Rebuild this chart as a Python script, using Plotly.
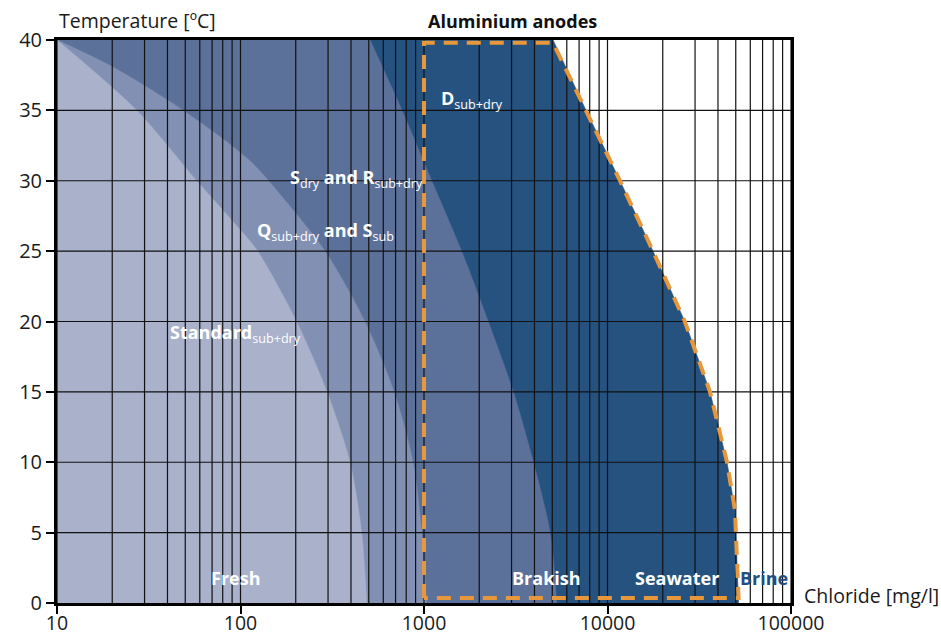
import math
import plotly.graph_objects as go

# ---------------- data ----------------
x_min, x_max = 10, 100000          # chloride axis range [mg/l]
t_min, t_max = 0, 40               # temperature axis range [degC]

# boundary of "Standard sub+dry"
standard_t = [40, 35, 30, 26.3, 25, 20, 15, 10, 5, 0]
standard_cl = [10, 27.2, 57.7, 103, 124, 202, 296, 395, 457, 487]

# boundary of "Q sub+dry and S sub"
q_t = [40, 38.1, 35, 31.4, 28.6, 25, 20, 15, 10, 5, 0]
q_cl = [10, 20, 48.7, 113, 175, 289, 476, 687, 871, 971, 1030]

# boundary of "S dry and R sub+dry"
s_t = [40, 35, 30, 25, 20, 15, 10, 5, 0]
s_cl = [508, 759, 1102, 1603, 2239, 3066, 3944, 4866, 5288]

# boundary of "D sub+dry" (aluminium anodes)
d_t = [40, 35, 30, 25, 20, 15, 10, 6.6, 0]
d_cl = [5050, 7640, 11700, 17700, 26400, 36200, 44800, 49500, 51800]

# left side of the aluminium anode window
alu_left = 1000

x_ticks = [10, 100, 1000, 10000, 100000]
x_tick_labels = ["10", "100", "1000", "10000", "100000"]
y_ticks = [0, 5, 10, 15, 20, 25, 30, 35, 40]

# ---------------- styles ----------------
c_std = "#A9B1CB"
c_q = "#8291B3"
c_s = "#5C719A"
c_d = "#265280"
c_orange = "#E8983A"
font_family = "Open Sans, Noto Sans, sans-serif"

fig = go.Figure()


def region(cl, t, color, shape):
    # invisible reference edge along the left border
    fig.add_trace(go.Scatter(
        x=[x_min, x_min], y=[t[0], t[-1]], mode="lines",
        line=dict(width=0, color=color), hoverinfo="skip", showlegend=False))
    fig.add_trace(go.Scatter(
        x=cl, y=t, mode="lines",
        line=dict(width=0.6, color=color, shape=shape, smoothing=0.8),
        fill="tonextx", fillcolor=color, hoverinfo="skip", showlegend=False))


region(d_cl, d_t, c_d, "linear")
region(s_cl, s_t, c_s, "spline")
region(q_cl, q_t, c_q, "spline")
region(standard_cl, standard_t, c_std, "spline")

# grid lines (drawn over the filled areas)
gx, gy = [], []
for dec in range(1, 5):
    for m in range(1, 10):
        v = m * 10 ** dec
        gx += [v, v, None]
        gy += [t_min, t_max, None]
gx += [x_max, x_max, None]
gy += [t_min, t_max, None]
for t in y_ticks[1:-1]:
    gx += [x_min, x_max, None]
    gy += [t, t, None]
fig.add_trace(go.Scatter(x=gx, y=gy, mode="lines",
                         line=dict(color="#111111", width=1.2),
                         hoverinfo="skip", showlegend=False))

# orange dashed outline of the aluminium anode window
inset_top, inset_bot = 39.8, 0.35
ox = [alu_left, alu_left] + d_cl + [alu_left]
oy = [inset_bot, inset_top] + [min(max(t, inset_bot), inset_top) for t in d_t] + [inset_bot]
fig.add_trace(go.Scatter(x=ox, y=oy, mode="lines",
                         line=dict(color=c_orange, width=4, dash="14px,9px"),
                         hoverinfo="skip", showlegend=False))

# ---------------- annotations ----------------
ann = []


def label(text, xval, yval, anchor="left", color="white"):
    ann.append(dict(text=text, x=math.log10(xval), y=yval, xref="x", yref="y",
                    xanchor=anchor, yanchor="middle", showarrow=False,
                    font=dict(family=font_family, size=18, color=color)))


label("<b>D</b><sub>sub+dry</sub>", 1200, 35.75)
label("<b>S</b><sub>dry</sub><b> and R</b><sub>sub+dry</sub>", 182, 30.15)
label("<b>Q</b><sub>sub+dry</sub><b> and S</b><sub>sub</sub>", 120.5, 26.4)
label("<b>Standard</b><sub>sub+dry</sub>", 40.5, 19.15)
label("<b>Fresh</b>", 94.2, 1.8, "center")
label("<b>Brakish</b>", 4680, 1.8, "center")
label("<b>Seawater</b>", 24000, 1.8, "center")
label("<b>Brine</b>", 71600, 1.8, "center", color="#1F4E82")

ann.append(dict(text="Temperature [ºC]", x=0, y=1.0347, xref="paper", yref="paper",
                xanchor="left", yanchor="middle", showarrow=False,
                font=dict(family=font_family, size=19.5, color="#1a1a1a")))
ann.append(dict(text="<b>Aluminium anodes</b>", x=0.620, y=1.0343, xref="paper", yref="paper",
                xanchor="center", yanchor="middle", showarrow=False,
                font=dict(family=font_family, size=18, color="#111111")))
ann.append(dict(text="Chloride [mg/l]", x=1.0146, y=0.0142, xref="paper", yref="paper",
                xanchor="left", yanchor="middle", showarrow=False,
                font=dict(family=font_family, size=19.5, color="#1a1a1a")))

fig.update_layout(
    width=941, height=637,
    margin=dict(l=57, r=150, t=40, b=34, autoexpand=False),
    paper_bgcolor="white", plot_bgcolor="white",
    font=dict(family=font_family, size=18, color="#1a1a1a"),
    annotations=ann,
    showlegend=False,
)
fig.update_xaxes(type="log", range=[math.log10(x_min), math.log10(x_max)],
                 tickvals=x_ticks, ticktext=x_tick_labels, automargin=False,
                 tickfont=dict(size=19.5), ticklabelstandoff=-7,
                 showgrid=False, zeroline=False,
                 ticks="outside", ticklen=8, tickwidth=1.5, tickcolor="black",
                 showline=True, linewidth=3, linecolor="black", mirror=True)
fig.update_yaxes(range=[t_min, t_max], tickvals=y_ticks, automargin=False,
                 tickfont=dict(size=20),
                 showgrid=False, zeroline=False,
                 ticks="outside", ticklen=8, tickwidth=1.5, tickcolor="black",
                 showline=True, linewidth=3, linecolor="black", mirror=True)

fig.write_html(
    "out.html",
    config={"displayModeBar": False},
    post_script="document.body.style.margin='0';document.body.style.overflow='hidden';",
)
